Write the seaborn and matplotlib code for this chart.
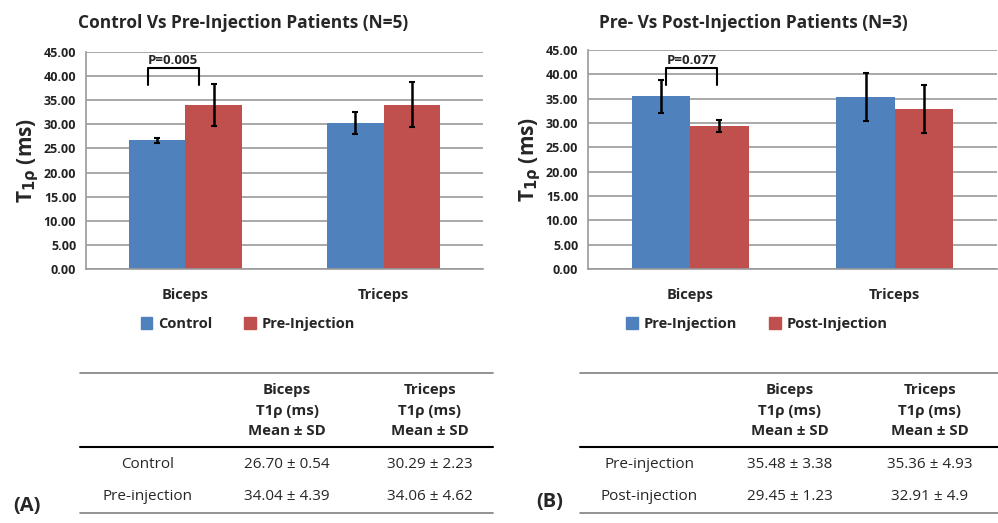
import matplotlib
matplotlib.use("Agg")
import matplotlib.pyplot as plt
import seaborn as sns
import pandas as pd
from matplotlib.lines import Line2D
from matplotlib.patches import Patch

# values (from the tables under the charts)
muscles = ['Biceps', 'Triceps']
groups_a = ['Control', 'Pre-Injection']
control_mean = [26.70, 30.29]
control_sd = [0.54, 2.23]
pre_a_mean = [34.04, 34.06]
pre_a_sd = [4.39, 4.62]

groups_b = ['Pre-Injection', 'Post-Injection']
pre_b_mean = [35.48, 35.36]
pre_b_sd = [3.38, 4.93]
post_b_mean = [29.45, 32.91]
post_b_sd = [1.23, 4.9]

yticks = [0, 5, 10, 15, 20, 25, 30, 35, 40, 45]

BLUE = '#4F81BD'
RED = '#C0504D'
GRID = '#9a9a9a'

sns.set_style('white')
plt.rcParams['font.family'] = ['Open Sans', 'DejaVu Sans']
plt.rcParams['mathtext.default'] = 'bf'

W, H = 998, 523
fig = plt.figure(figsize=(W / 100, H / 100), dpi=100)


def fx(x):
    return x / W


def fy(y):
    return 1 - y / H


def bar_panel(rect, title, title_x, groups, means, sds, pval, bracket, legend_x):
    ax = fig.add_axes(rect)
    df = pd.DataFrame({
        'muscle': muscles * 2,
        'group': [groups[0]] * 2 + [groups[1]] * 2,
        'mean': means[0] + means[1],
    })
    sns.barplot(data=df, x='muscle', y='mean', hue='group', order=muscles,
                hue_order=groups, palette=[BLUE, RED], errorbar=None,
                width=0.57, linewidth=0, saturation=1, legend=False, ax=ax)
    for cont, sd in zip(ax.containers, sds):
        for bar, s in zip(cont, sd):
            ax.errorbar(bar.get_x() + bar.get_width() / 2, bar.get_height(),
                        yerr=s, fmt='none', ecolor='black', elinewidth=1.8,
                        capsize=2.5, capthick=1.5, zorder=5)
    ax.set_xlim(-0.5, 1.5)
    ax.set_ylim(0, 45)
    ax.set_yticks(yticks)
    ax.set_yticklabels([f'{v:.2f}' for v in yticks], fontsize=9,
                       fontweight='bold', color='#222222')
    ax.set_xticks([0, 1])
    ax.set_xticklabels(muscles, fontsize=10.5, fontweight='bold')
    ax.set_xticks([-0.5, 0.5, 1.5], minor=True)
    ax.tick_params(axis='x', which='major', length=0, pad=14)
    ax.tick_params(axis='x', which='minor', length=5, color=GRID, direction='out')
    ax.tick_params(axis='y', length=5, color=GRID, direction='out', pad=2)
    ax.yaxis.grid(True, color=GRID, lw=1.2)
    ax.set_axisbelow(True)
    for s in ['top', 'right']:
        ax.spines[s].set_visible(False)
    for s in ['left', 'bottom']:
        ax.spines[s].set_color(GRID)
        ax.spines[s].set_linewidth(1.2)
    ax.set_xlabel('')
    ax.set_ylabel('T$_{1ρ}$ (ms)', fontsize=15, fontweight='bold', labelpad=2)
    fig.text(fx(title_x), fy(23), title, ha='center', va='center',
             fontsize=12.5, fontweight='bold')

    x0, x1, ylo, yhi = bracket
    ax.plot([x0, x0, x1, x1], [ylo, yhi, yhi, ylo], color='black', lw=1.5,
            zorder=6, clip_on=False)
    ax.text((x0 + x1) / 2, yhi + 0.2, pval, ha='center', va='bottom',
            fontsize=9.5, fontweight='bold')

    handles = [Patch(color=BLUE, label=groups[0]), Patch(color=RED, label=groups[1])]
    fig.legend(handles=handles, loc='center', bbox_to_anchor=(fx(legend_x), fy(324)),
               ncol=2, frameon=False, prop={'weight': 'bold', 'size': 10.5},
               handlelength=0.8, handleheight=0.8, columnspacing=2.2,
               handletextpad=0.4)
    return ax


bar_panel([fx(86), fy(269), fx(483 - 86), (269 - 52) / H],
          'Control Vs Pre-Injection Patients (N=5)', 243, groups_a,
          [control_mean, pre_a_mean], [control_sd, pre_a_sd],
          'P=0.005', (-0.19, 0.07, 38.2, 41.7), 248)

bar_panel([fx(588), fy(269), fx(997 - 588), (269 - 50) / H],
          'Pre- Vs Post-Injection Patients (N=3)', 753, groups_b,
          [pre_b_mean, post_b_mean], [pre_b_sd, post_b_sd],
          'P=0.077', (-0.12, 0.13, 37.8, 41.3), 757)


def table(xl, xr, cols, rows, means, sds, label, label_pos):
    fig.add_artist(Line2D([fx(xl), fx(xr)], [fy(373), fy(373)], color='#808080', lw=1.2))
    fig.add_artist(Line2D([fx(xl), fx(xr)], [fy(447), fy(447)], color='black', lw=1.5))
    fig.add_artist(Line2D([fx(xl), fx(xr)], [fy(513), fy(513)], color='#808080', lw=1.2))
    for cx, m in zip(cols[1:], muscles):
        for y, t in zip([390, 411, 431], [m, 'T1ρ (ms)', 'Mean ± SD']):
            fig.text(fx(cx), fy(y), t, ha='center', va='center', fontsize=10.8,
                     fontweight='bold')
    for y, name, mm, ss in zip([464, 496], rows, means, sds):
        fig.text(fx(cols[0]), fy(y), name, ha='center', va='center', fontsize=11)
        for cx, m, s in zip(cols[1:], mm, ss):
            fig.text(fx(cx), fy(y), f'{m:.2f} ± {s:g}', ha='center', va='center',
                     fontsize=11)
    fig.text(fx(label_pos[0]), fy(label_pos[1]), label, ha='center', va='center',
             fontsize=14.5, fontweight='bold')


table(80, 493, [148, 287, 430], ['Control', 'Pre-injection'],
      [control_mean, pre_a_mean], [control_sd, pre_a_sd], '(A)', (27, 506))
table(580, 998, [649, 790, 930], ['Pre-injection', 'Post-injection'],
      [pre_b_mean, post_b_mean], [pre_b_sd, post_b_sd], '(B)', (550, 502))

fig.savefig('out.png', dpi=100)
